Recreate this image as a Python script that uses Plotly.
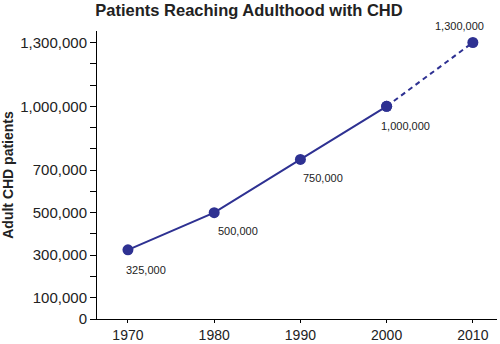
import plotly.graph_objects as go

years = [1970, 1980, 1990, 2000, 2010]
patients = [325000, 500000, 750000, 1000000, 1300000]
point_labels = ["325,000", "500,000", "750,000", "1,000,000", "1,300,000"]

# label offsets (pixels) relative to each point
label_dx = [18, 24, 23, 19, -13]
label_dy = [-20, -18, -19, -20, 16]

y_tick_vals = list(range(0, 1300001, 100000))
y_labeled = {0, 100000, 300000, 500000, 700000, 1000000, 1300000}
y_tick_text = [f"{v:,}" if v in y_labeled else "" for v in y_tick_vals]

color = "#2e3192"
font = "Liberation Sans, Arial, Helvetica, sans-serif"

fig = go.Figure()

# observed trend (solid) and projection (dashed)
fig.add_trace(go.Scatter(
    x=years[:4], y=patients[:4], mode="lines+markers",
    line=dict(color=color, width=2),
    marker=dict(size=11, color=color),
    showlegend=False, hoverinfo="skip",
))
fig.add_trace(go.Scatter(
    x=years[3:], y=patients[3:], mode="lines+markers",
    line=dict(color=color, width=2, dash="5px,4px"),
    marker=dict(size=11, color=color),
    showlegend=False, hoverinfo="skip",
))

for x, y, t, dx, dy in zip(years, patients, point_labels, label_dx, label_dy):
    fig.add_annotation(
        x=x, y=y, text=t, showarrow=False,
        xanchor="center", yanchor="middle",
        xshift=dx, yshift=dy,
        font=dict(size=11, color="#222222", family=font),
    )

fig.update_layout(
    width=500, height=344,
    margin=dict(l=97, r=3, t=31, b=25),
    paper_bgcolor="white", plot_bgcolor="white",
    font=dict(family=font, color="#222222", size=15),
    title=dict(
        text="<b>Patients Reaching Adulthood with CHD</b>",
        x=0.498, xanchor="center", y=0.971, yanchor="middle",
        font=dict(size=16.5, color="#222222", family=font),
    ),
    xaxis=dict(
        range=[1966.41, 2012.8],
        tickvals=years, ticktext=[str(y) for y in years],
        showgrid=False, zeroline=False, automargin=False,
        showline=True, linecolor="black", linewidth=1,
        ticks="outside", ticklen=3, tickcolor="black",
        tickfont=dict(size=14),
    ),
    yaxis=dict(
        range=[0, 1354000],
        tickvals=y_tick_vals, ticktext=y_tick_text,
        showgrid=False, zeroline=False, automargin=False,
        showline=True, linecolor="black", linewidth=1,
        ticks="outside", ticklen=6, tickcolor="black",
        tickfont=dict(size=15),
        title=dict(text="<b>Adult CHD patients</b>", font=dict(size=14), standoff=6),
    ),
)

fig.write_html("out.html")
